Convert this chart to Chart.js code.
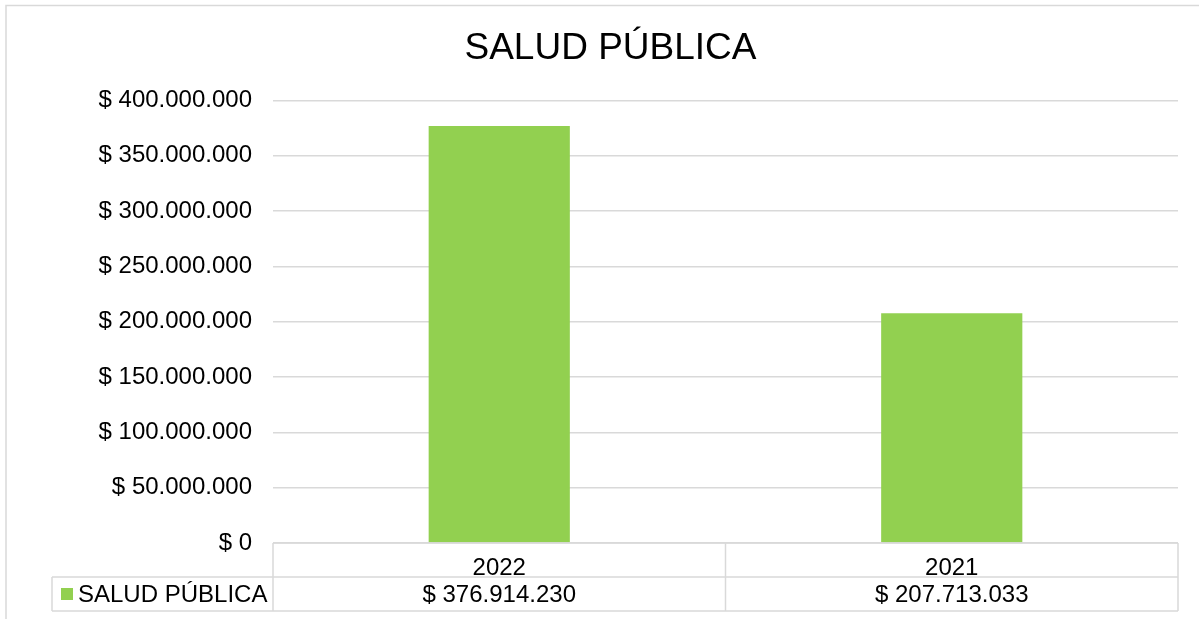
<!DOCTYPE html>
<html>
<head>
<meta charset="utf-8">
<script src="https://cdn.jsdelivr.net/npm/chart.js@4"></script>
<style>
  html, body { margin: 0; padding: 0; background: #fff; }
  #wrap { width: 1199px; height: 619px; }
</style>
</head>
<body>
<div id="wrap"><canvas id="chart" width="1199" height="619"></canvas></div>
<script>
const chartTitle = "SALUD PÚBLICA";
const categories = ["2022", "2021"];
const seriesName = "SALUD PÚBLICA";
const seriesValues = [376914230, 207713033];
const yMin = 0;
const yMax = 400000000;
const yStep = 50000000;

const FONT = "'Liberation Sans', Arial, sans-serif";
const GREEN = "#92D050";
const LINE = "#d9d9d9";

function money(v) {
  return "$ " + String(Math.round(v)).replace(/\B(?=(\d{3})+(?!\d))/g, ".");
}

// draws the outer frame and the Excel-style data table under the plot
const dataTable = {
  id: "dataTable",
  afterDraw(chart) {
    const ctx = chart.ctx;
    const x = chart.scales.x;
    const area = chart.chartArea;
    const top = area.bottom;
    const rowH = 34;
    const mid = top + rowH;
    const bot = top + rowH * 2;
    const legendLeft = 52;

    ctx.save();
    ctx.strokeStyle = LINE;
    ctx.lineWidth = 1.5;

    // outer frame
    ctx.strokeRect(6, 5.5, 1300, 700);

    ctx.beginPath();
    ctx.moveTo(area.left, top); ctx.lineTo(area.right, top);
    ctx.moveTo(legendLeft, mid); ctx.lineTo(area.right, mid);
    ctx.moveTo(legendLeft, bot); ctx.lineTo(area.right, bot);
    ctx.moveTo(legendLeft, mid); ctx.lineTo(legendLeft, bot);
    ctx.moveTo(area.left, top); ctx.lineTo(area.left, bot);
    ctx.moveTo(area.right, top); ctx.lineTo(area.right, bot);
    for (let i = 1; i < categories.length; i++) {
      const bx = (x.getPixelForValue(i - 1) + x.getPixelForValue(i)) / 2;
      ctx.moveTo(bx, top); ctx.lineTo(bx, bot);
    }
    ctx.stroke();

    // legend key + series name
    ctx.fillStyle = GREEN;
    ctx.fillRect(61, mid + rowH / 2 - 6, 12, 12);
    ctx.fillStyle = "#000";
    ctx.font = "24px " + FONT;
    ctx.textBaseline = "middle";
    ctx.textAlign = "left";
    ctx.fillText(seriesName, 78, mid + rowH / 2 + 1);

    // values row
    ctx.textAlign = "center";
    seriesValues.forEach((v, i) => {
      ctx.fillText(money(v), x.getPixelForValue(i), mid + rowH / 2 + 1);
    });
    ctx.restore();
  }
};

new Chart(document.getElementById("chart"), {
  type: "bar",
  data: {
    labels: categories,
    datasets: [{
      label: seriesName,
      data: seriesValues,
      backgroundColor: GREEN,
      borderWidth: 0,
      categoryPercentage: 1,
      barPercentage: 0.312
    }]
  },
  options: {
    responsive: false,
    animation: false,
    layout: { padding: { left: 43, right: 21, top: 0, bottom: 0 } },
    plugins: {
      legend: { display: false },
      tooltip: { enabled: false },
      title: {
        display: true,
        text: chartTitle,
        color: "#000",
        font: { family: FONT, size: 37, weight: "normal" },
        padding: { top: 27, bottom: 29 }
      }
    },
    scales: {
      x: {
        grid: { display: false },
        border: { display: false },
        ticks: { color: "#000", font: { family: FONT, size: 24 }, padding: 3 },
        afterFit(scale) { scale.height = 76; }
      },
      y: {
        min: yMin,
        max: yMax,
        grid: { color: LINE, lineWidth: 1.5, drawTicks: false },
        border: { display: false },
        ticks: {
          stepSize: yStep,
          color: "#000",
          font: { family: FONT, size: 24 },
          padding: 21,
          callback: v => money(v)
        },
        afterFit(scale) { scale.width = 230; }
      }
    }
  },
  plugins: [dataTable]
});
</script>
</body>
</html>
